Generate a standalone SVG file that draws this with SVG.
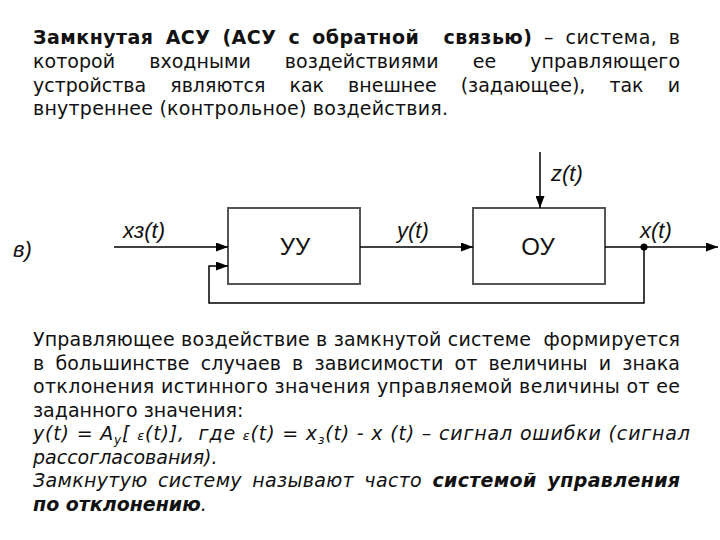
<svg xmlns="http://www.w3.org/2000/svg" width="720" height="540" viewBox="0 0 720 540">
<style>
.t{font-family:"DejaVu Sans","Noto Sans",sans-serif;font-size:19px;fill:#111}
.b{font-weight:bold}
.i{font-style:italic}
.lbl{font-family:"Liberation Sans",Arial,sans-serif;font-style:italic;font-size:22px;fill:#111}
.blk{font-family:"Liberation Sans",Arial,sans-serif;font-size:24px;fill:#111}
.box{fill:#fff;stroke:#555;stroke-width:2}
.ln{fill:none;stroke:#000;stroke-width:1.5}
</style>
<defs>
<marker id="arr" markerUnits="userSpaceOnUse" markerWidth="12" markerHeight="9" refX="12" refY="4.5" orient="auto">
<path d="M0,0 L12,4.5 L0,9 z" fill="#000"/>
</marker>
</defs>
<rect width="720" height="540" fill="#fff"/>

<g id="para1">
<text class="t" x="33" y="44" textLength="647" lengthAdjust="spacing" xml:space="preserve" style="word-spacing:5px"><tspan class="b">Замкнутая АСУ (АСУ с обратной  связью)</tspan> – система, в</text>
<text class="t" x="33" y="68" textLength="647" lengthAdjust="spacing" style="word-spacing:28px">которой входными воздействиями ее управляющего</text>
<text class="t" x="33" y="92" textLength="647" lengthAdjust="spacing" style="word-spacing:18px">устройства являются как внешнее (задающее), так и</text>
<text class="t" x="33" y="115" textLength="415" lengthAdjust="spacing">внутреннее (контрольное) воздействия.</text>
</g>

<g id="label-v"><text class="lbl" x="13" y="257">в)</text></g>

<g id="node-uu">
<rect class="box" x="228" y="208" width="132" height="76"/>
<text class="blk" x="295" y="255" text-anchor="middle">УУ</text>
</g>
<g id="node-ou">
<rect class="box" x="473" y="208" width="132" height="76"/>
<text class="blk" x="538" y="255" text-anchor="middle">ОУ</text>
</g>

<g id="connectors">
<path class="ln" d="M114,247 H228" marker-end="url(#arr)"/>
<path class="ln" d="M644,247 V303 H209 V266 H228" marker-end="url(#arr)"/>
<path class="ln" d="M360,247 H473" marker-end="url(#arr)"/>
<path class="ln" d="M540,152 V208" marker-end="url(#arr)"/>
<path class="ln" d="M605,247 H718" marker-end="url(#arr)"/>
<circle cx="644" cy="247" r="3.5" fill="#000"/>
</g>

<g id="signal-labels">
<text class="lbl" x="123" y="238">xз(t)</text>
<text class="lbl" x="397" y="238">y(t)</text>
<text class="lbl" x="640" y="238">x(t)</text>
<text class="lbl" x="551" y="181">z(t)</text>
</g>

<g id="para2">
<text class="t" x="33" y="346" textLength="647" lengthAdjust="spacing" xml:space="preserve">Управляющее воздействие в замкнутой системе  формируется</text>
<text class="t" x="33" y="369.5" textLength="647" lengthAdjust="spacing" style="word-spacing:5px">в большинстве случаев в зависимости от величины и знака</text>
<text class="t" x="33" y="393" textLength="647" lengthAdjust="spacing">отклонения истинного значения управляемой величины от ее</text>
<text class="t" x="33" y="416.5">заданного значения:</text>
<text class="t i" x="33" y="440" textLength="657" lengthAdjust="spacing" xml:space="preserve">y(t) = A<tspan font-size="12" dy="4">y</tspan><tspan dy="-4">[ </tspan><tspan font-size="13">ε</tspan>(t)],  где <tspan font-size="13">ε</tspan>(t) = x<tspan font-size="12" dy="4">з</tspan><tspan dy="-4">(t) - x (t) – сигнал ошибки (сигнал</tspan></text>
<text class="t i" x="33" y="463.5">рассогласования).</text>
<text class="t i" x="33" y="487" textLength="647" lengthAdjust="spacing" style="word-spacing:4px">Замкнутую систему называют часто <tspan class="b">системой управления</tspan></text>
<text class="t i" x="33" y="510.5"><tspan class="b">по отклонению</tspan>.</text>
</g>
</svg>
